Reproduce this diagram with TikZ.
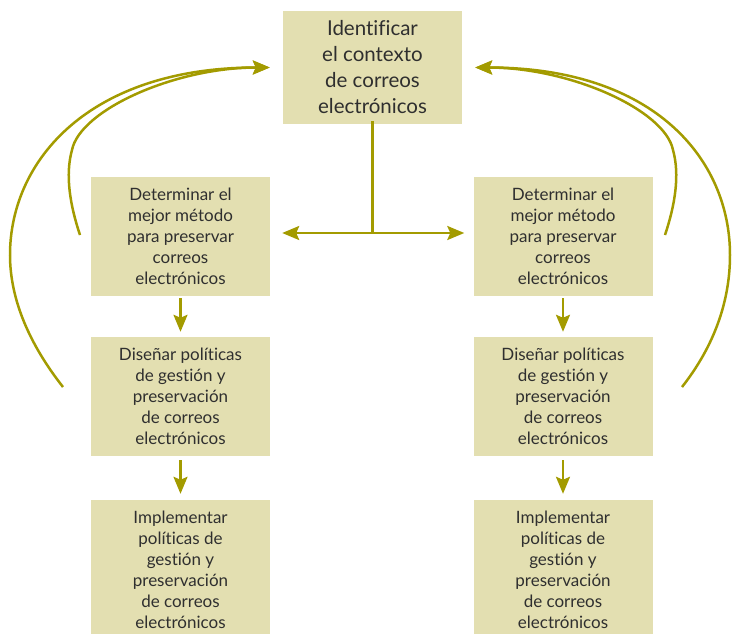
\documentclass[tikz,border=0pt]{standalone}
\usepackage{fontspec}
\setmainfont[Ligatures=NoCommon]{Lato}
\usetikzlibrary{arrows.meta}
\definecolor{boxfill}{HTML}{E3DFB1}
\definecolor{olive}{HTML}{A39B00}
\definecolor{txt}{HTML}{2F2F2F}
\tikzset{
  box/.style={fill=boxfill, text=txt, align=center, inner sep=0pt, minimum width=179pt, font=\fontsize{17}{21}\selectfont},
  topbox/.style={box, minimum height=113pt, font=\fontsize{20.5}{26}\selectfont},
  midbox/.style={box, minimum height=119pt},
  lowbox/.style={box, minimum height=140pt},
  conn/.style={draw=olive, line width=2.5pt},
  arr/.style={conn, -{Stealth[length=17pt,width=14pt,inset=3pt]}},
  darr/.style={conn, {Stealth[length=17pt,width=14pt,inset=3pt]}-{Stealth[length=17pt,width=14pt,inset=3pt]}},
}
\begin{document}
\begin{tikzpicture}[x=1pt,y=-1pt]
\useasboundingbox (0,0) rectangle (732,633);
\node[topbox] (top) at (372.5,67.5) {Identificar\\el contexto\\de correos\\electrónicos};
\node[midbox] (L1) at (180.5,236.5) {Determinar el\\mejor método\\para preservar\\correos\\electrónicos};
\node[midbox] (L2) at (180.5,396.5) {Diseñar políticas\\de gestión y\\preservación\\de correos\\electrónicos};
\node[lowbox] (L3) at (180.5,570) {Implementar\\políticas de\\gestión y\\preservación\\de correos\\electrónicos};
\node[midbox] (R1) at (563,236.5) {Determinar el\\mejor método\\para preservar\\correos\\electrónicos};
\node[midbox] (R2) at (563,396.5) {Diseñar políticas\\de gestión y\\preservación\\de correos\\electrónicos};
\node[lowbox] (R3) at (563,570) {Implementar\\políticas de\\gestión y\\preservación\\de correos\\electrónicos};
% top split connector
\coordinate (j) at (372.5,233);
\draw[conn] ([yshift=3pt]top.south) -- (j);
\draw[darr] ([xshift=12pt]L1.east |- j) -- ([xshift=-9pt]R1.west |- j);
% vertical arrows
\draw[arr, shorten <=2pt, shorten >=5pt] (L1.south) -- (L2.north);
\draw[arr, shorten <=4pt, shorten >=6pt] (L2.south) -- (L3.north);
\draw[arr, shorten <=2pt, shorten >=5pt] (R1.south) -- (R2.north);
\draw[arr, shorten <=4pt, shorten >=6pt] (R2.south) -- (R3.north);
% feedback curves
\coordinate (tipL) at ([xshift=-13pt]top.west);
\coordinate (tipR) at ([xshift=13pt]top.east);
\coordinate (lo) at (63,387);
\coordinate (li) at (80,235);
\coordinate (ro) at (682,387);
\coordinate (ri) at (665,235);
\draw[arr] (lo) .. controls +(-33,-42) and +(0,45) .. (10,255) .. controls +(0,-95) and +(-180,0) .. (tipL);
\draw[arr] (li) .. controls +(-10,-30) and +(-7,25) .. (72,150) .. controls +(8,-40) and +(-95,0) .. (tipL);
\draw[arr] (ro) .. controls +(33,-42) and +(0,45) .. (730,255) .. controls +(0,-95) and +(180,0) .. (tipR);
\draw[arr] (ri) .. controls +(10,-30) and +(7,25) .. (673,150) .. controls +(-8,-40) and +(95,0) .. (tipR);
\end{tikzpicture}
\end{document}
